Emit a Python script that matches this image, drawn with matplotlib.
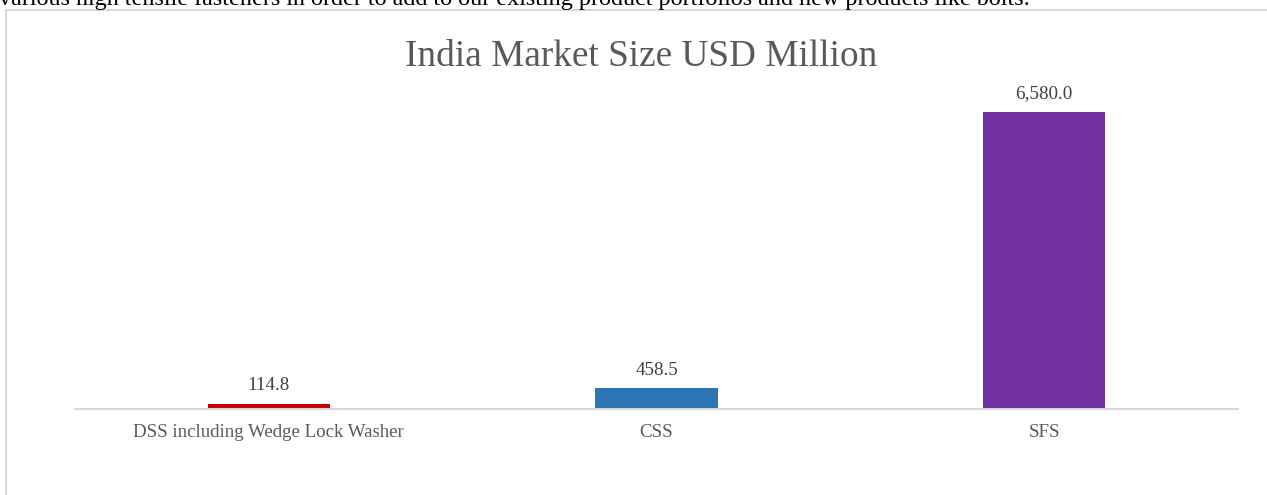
import matplotlib
matplotlib.use('Agg')
import matplotlib.pyplot as plt
from matplotlib.patches import Rectangle
from matplotlib.ticker import NullLocator

plt.rcParams['font.family'] = ['Liberation Serif', 'DejaVu Serif']

# ---------------------- Data ----------------------
categories = ['DSS including Wedge Lock Washer', 'CSS', 'SFS']
values = [114.8, 458.5, 6580.0]
bar_colors = ['#C00000', '#2E75B6', '#7030A0']
title = 'India Market Size USD Million'
page_text = ('various high tensile fasteners in order to add to our existing '
             'product portfolios and new products like bolts.')

W, H = 1267, 495
fig = plt.figure(figsize=(W / 100, H / 100), dpi=100)

# chart frame (light grey border, cut off at right/bottom like a page screenshot)
fig.patches.append(Rectangle((6 / W, -0.1), 1.2, (H - 10) / H + 0.1,
                             transform=fig.transFigure, fill=False,
                             edgecolor='#D9D9D9', linewidth=1.5))

# cut-off line of document text above the chart
fig.text(-1 / W, 1 - 5 / H, page_text, ha='left', va='baseline',
         fontsize=17.4, color='black')

ax = fig.add_axes([75 / W, (H - 409) / H, 1163 / W, 316 / H])
x = range(len(categories))
bars = ax.bar(x, values, width=0.315, color=bar_colors, zorder=2)
ax.set_xlim(-0.5, len(categories) - 0.5)
ax.set_ylim(0, 7000)

for b, v in zip(bars, values):
    ax.annotate(f'{v:,.1f}', (b.get_x() + b.get_width() / 2, v),
                xytext=(0, 7), textcoords='offset points',
                ha='center', va='bottom', fontsize=13.7, color='#404040')

ax.set_xticks(list(x))
ax.set_xticklabels(categories, fontsize=13.6, color='#595959')
ax.tick_params(axis='x', length=0, pad=11)
ax.yaxis.set_major_locator(NullLocator())
for s in ['top', 'right', 'left']:
    ax.spines[s].set_visible(False)
ax.spines['bottom'].set_color('#D9D9D9')
ax.spines['bottom'].set_linewidth(1.5)

fig.text(641 / W, 1 - 57 / H, title, ha='center', va='center',
         fontsize=26.8, color='#595959')

fig.savefig('out.png', dpi=100)
